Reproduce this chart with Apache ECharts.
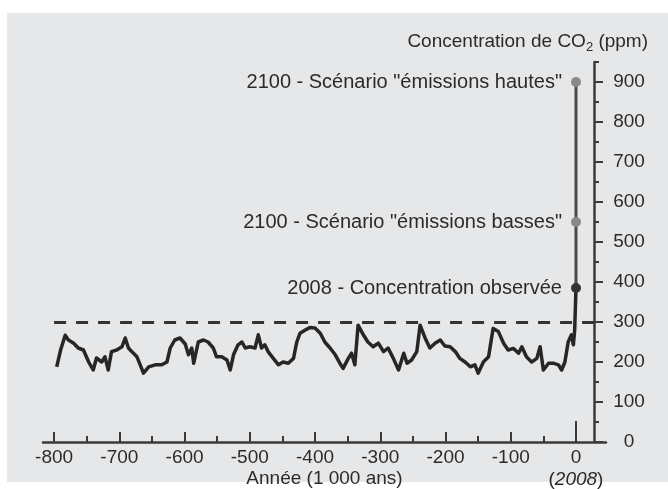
<!DOCTYPE html>
<html>
<head>
<meta charset="utf-8">
<script src="https://cdn.jsdelivr.net/npm/echarts@6/dist/echarts.min.js"></script>
<style>html,body{margin:0;padding:0;background:#fff}#c{width:668px;height:489px}</style>
</head>
<body>
<div id="c"></div>
<script>
// Time in thousands of years (0 = 2008), CO2 in ppm
const years = [-796,-790,-783,-778,-770,-763,-755,-747,-740,-735,-727,-722,-717,-712,-704,-696,-691,-686,-681,-673,-668,-663,-655,-645,-635,-627,-622,-615,-607,-599,-594,-589,-586,-579,-571,-564,-556,-551,-543,-535,-530,-525,-518,-512,-507,-500,-492,-487,-482,-477,-472,-464,-456,-449,-441,-433,-428,-423,-415,-408,-400,-392,-385,-377,-369,-362,-357,-349,-344,-339,-334,-326,-319,-311,-303,-295,-288,-280,-272,-264,-259,-252,-244,-239,-231,-224,-216,-208,-201,-193,-185,-178,-170,-162,-155,-150,-142,-134,-127,-119,-111,-104,-96,-88,-83,-76,-68,-60,-55,-50,-42,-35,-27,-22,-17,-12,-7,-4,-2,0,0];
const co2 = [188,230,267,255,247,235,230,200,180,210,200,213,180,226,230,238,260,235,226,213,193,172,188,193,193,200,235,255,260,245,218,235,197,250,255,250,235,213,213,205,180,218,243,250,235,238,235,268,235,243,226,209,193,200,197,209,250,272,280,286,285,272,250,235,218,197,184,209,222,193,292,268,250,238,247,226,235,209,180,222,197,205,226,292,259,235,247,255,240,238,226,209,200,188,193,172,200,213,284,276,247,230,234,222,238,213,200,209,238,180,197,197,193,180,200,250,268,243,280,280,385];

const projYears = [0, 0, 0];
const projValues = [385, 550, 900];
const projLabels = ['2008 - Concentration observée', '2100 - Scénario "émissions basses"', '2100 - Scénario "émissions hautes"'];

const threshold = 300;
const xTicks = [-800,-700,-600,-500,-400,-300,-200,-100,0];
const xMinorTicks = [-750,-650,-550,-450,-350,-250,-150,-50];
const yTicks = [0,100,200,300,400,500,600,700,800,900];
const yMinorTicks = [50,150,250,350,450,550,650,750,850,950];

const FONT = "'Liberation Sans', Arial, sans-serif";
const TXT = '#2b2b2b';
const AX = '#3a3a3a';
const XMIN = -817, XMAX = 46, YMIN = 0, YMAX = 950;
const YAXIS_AT = 27.6; // x value where the vertical axis sits

const chart = echarts.init(document.getElementById('c'));
const baseX = {type:'value', min:XMIN, max:XMAX, position:'bottom', splitLine:{show:false}};
const baseY = {type:'value', min:YMIN, max:YMAX, position:'right', offset:-12, splitLine:{show:false}};

chart.setOption({
  animation:false,
  backgroundColor:'#ffffff',
  textStyle:{fontFamily:FONT},
  graphic:{elements:[{type:'rect', z:-100, silent:true, shape:{x:7,y:13,width:661,height:469}, style:{fill:'#e6e7e9'}}]},
  title:{
    text:'{a|Concentration de CO}{s|2}{a| (ppm)}',
    right:20, top:30, padding:0,
    textStyle:{fontWeight:'normal', rich:{
      a:{fontSize:19, color:TXT, fontFamily:FONT, fontWeight:'normal', lineHeight:24},
      s:{fontSize:13, color:TXT, fontFamily:FONT, fontWeight:'normal', lineHeight:12, verticalAlign:'bottom'}
    }}
  },
  grid:{left:43, right:62, top:62, bottom:47, containLabel:false, outerBoundsMode:'none'},
  xAxis:[
    Object.assign({}, baseX, {
      axisLine:{onZero:false, lineStyle:{color:AX, width:2.5}},
      axisTick:{inside:true, length:10, customValues:xTicks, lineStyle:{color:AX, width:2}},
      axisLabel:{customValues:xTicks, margin:5, fontSize:19, color:TXT, lineHeight:22, fontFamily:FONT,
        formatter:function(v){ return v===0 ? '0\n{p|(}{i|2008}{p|)}' : String(v); },
        rich:{p:{fontSize:19, color:TXT, lineHeight:22}, i:{fontSize:19, fontStyle:'italic', color:TXT, lineHeight:22}}},
      name:'Année (1 000 ans)', nameLocation:'middle', nameGap:26, nameMoveOverlap:false,
      nameTextStyle:{fontSize:19, color:TXT, lineHeight:22, fontFamily:FONT}
    }),
    Object.assign({}, baseX, {
      axisLine:{show:false, onZero:false},
      axisTick:{inside:true, length:6, customValues:xMinorTicks, lineStyle:{color:AX, width:2}},
      axisLabel:{show:false}
    }),
    Object.assign({}, baseX, {
      axisLine:{show:false, onZero:false},
      axisTick:{inside:true, length:21, customValues:[0], lineStyle:{color:AX, width:2}},
      axisLabel:{show:false}
    })
  ],
  yAxis:[
    Object.assign({}, baseY, {
      axisLine:{show:true, onZero:false, lineStyle:{color:AX, width:2.5}},
      axisTick:{show:true, inside:false, length:9, customValues:yTicks, lineStyle:{color:AX, width:2}},
      axisLabel:{customValues:yTicks, margin:35, align:'center', fontSize:19, color:TXT, fontFamily:FONT}
    }),
    Object.assign({}, baseY, {
      axisLine:{show:false, onZero:false},
      axisTick:{show:true, inside:false, length:5, customValues:yMinorTicks, lineStyle:{color:AX, width:2}},
      axisLabel:{show:false}
    })
  ],
  series:[
    {
      type:'line', xAxisIndex:0, yAxisIndex:0, z:3,
      data: years.map((y,i)=>[y, co2[i]]),
      showSymbol:false, symbol:'none',
      lineStyle:{color:'#262626', width:3.5, join:'round'},
      markLine:{
        silent:true, symbol:'none', label:{show:false},
        lineStyle:{color:'#333333', width:3, type:[12,10]},
        data:[[{coord:[xTicks[0], threshold]}, {coord:[YAXIS_AT, threshold]}]]
      }
    },
    {
      type:'line', xAxisIndex:0, yAxisIndex:0, z:4,
      data: projYears.map((y,i)=>({value:[y, projValues[i]], name:projLabels[i],
        itemStyle:{color: i===0 ? '#333333' : '#8a8a8a'}})),
      symbol:'circle', symbolSize:10, showSymbol:true,
      lineStyle:{color:'#4a4a4a', width:3},
      label:{show:true, position:'left', distance:9, fontSize:20, color:TXT, fontFamily:FONT,
        formatter:function(p){ return p.name; }}
    }
  ]
});
</script>
</body>
</html>
